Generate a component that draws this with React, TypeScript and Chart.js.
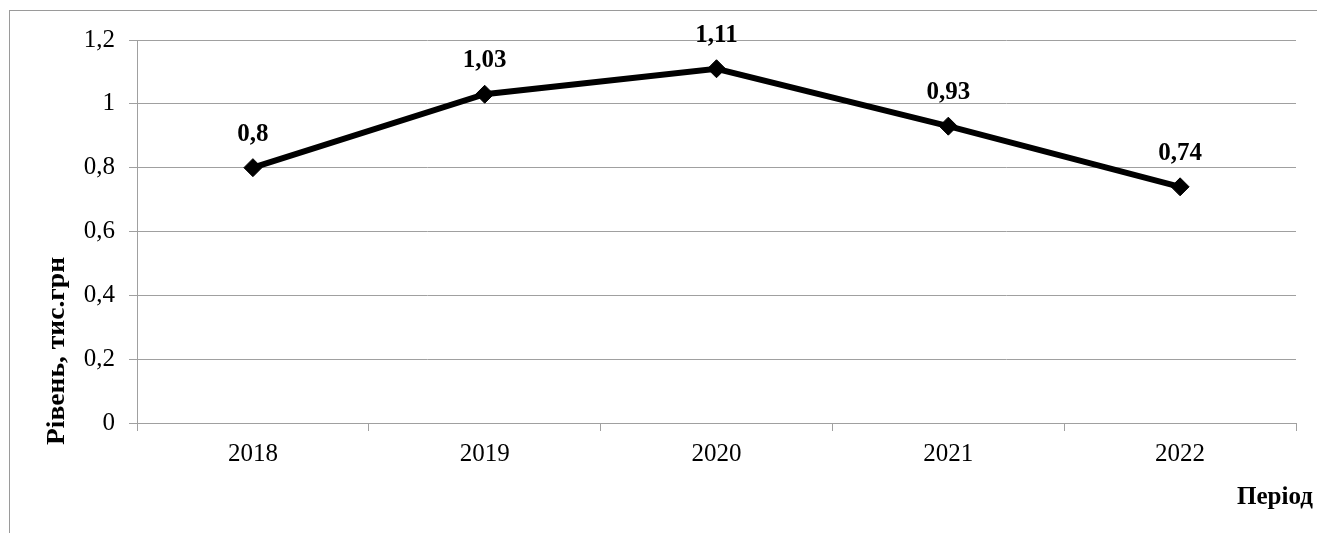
import React, { useEffect, useRef } from "react";
import { Chart, registerables } from "chart.js";

Chart.register(...registerables);

// Рівень по роках, тис. грн
const periods = ["2018", "2019", "2020", "2021", "2022"];
const levels = [0.8, 1.03, 1.11, 0.93, 0.74];
const yTitle = "Рівень, тис.грн";
const xTitle = "Період";

const GRAY = "#a0a0a0";
const FONT = "'Liberation Serif', 'Times New Roman', serif";

const fmt = (v: number) => String(Number(v.toFixed(2))).replace(".", ",");

// Draws centred text widened to a given run length (Cyrillic glyphs here are narrower than Times)
function drawWide(ctx: CanvasRenderingContext2D, text: string, runLength: number) {
  const w = ctx.measureText(text).width;
  const k = w > 0 ? runLength / w : 1;
  ctx.save();
  ctx.scale(k, 1);
  ctx.textAlign = "center";
  ctx.textBaseline = "middle";
  ctx.fillText(text, 0, 0);
  ctx.restore();
}

// Frame around the chart, axis titles and value labels
const decorations = {
  id: "decorations",
  beforeDraw(chart: any) {
    const { ctx } = chart;
    ctx.save();
    ctx.fillStyle = "#ffffff";
    ctx.fillRect(0, 0, chart.width, chart.height);
    ctx.fillStyle = "#9a9a9a";
    ctx.fillRect(9, 10, 1, chart.height - 10);
    ctx.fillRect(9, 10, chart.width - 9, 1);
    ctx.restore();
  },
  afterDatasetsDraw(chart: any) {
    const { ctx } = chart;
    const meta = chart.getDatasetMeta(0);
    ctx.save();
    ctx.fillStyle = "#000";
    ctx.font = `bold 25px ${FONT}`;
    ctx.textAlign = "center";
    ctx.textBaseline = "alphabetic";
    meta.data.forEach((pt: any, i: number) => {
      ctx.fillText(fmt(levels[i]), pt.x, pt.y - 27);
    });

    // axis titles
    ctx.font = `bold 25px ${FONT}`;
    ctx.save();
    ctx.translate(1275, 498);
    drawWide(ctx, xTitle, 76);
    ctx.restore();

    ctx.save();
    ctx.translate(57.5, 351);
    ctx.rotate(-Math.PI / 2);
    drawWide(ctx, yTitle, 188);
    ctx.restore();
    ctx.restore();
  },
};

export default function App() {
  const canvasRef = useRef<HTMLCanvasElement | null>(null);

  useEffect(() => {
    const canvas = canvasRef.current;
    if (!canvas) return;
    const chart = new Chart(canvas, {
      type: "line",
      data: {
        labels: periods,
        datasets: [
          {
            data: levels,
            borderColor: "#000",
            backgroundColor: "#000",
            borderWidth: 6,
            tension: 0,
            pointStyle: "rectRot",
            pointRadius: 9,
            pointBorderWidth: 1,
            pointBackgroundColor: "#000",
            pointBorderColor: "#000",
          },
        ],
      },
      options: {
        responsive: false,
        animation: false,
        layout: { padding: { left: 0, top: 40, right: 21, bottom: 0 } },
        plugins: {
          legend: { display: false },
          tooltip: { enabled: false },
          title: { display: false },
        },
        scales: {
          x: {
            type: "category",
            offset: true,
            afterFit: (s: any) => {
              s.height = 110;
            },
            grid: {
              offset: true,
              drawOnChartArea: false,
              drawTicks: true,
              tickLength: 8,
              color: GRAY,
              lineWidth: 1,
            },
            border: { color: GRAY, width: 1 },
            ticks: {
              color: "#000",
              font: { family: FONT, size: 25 },
              padding: 8,
              maxRotation: 0,
            },
          },
          y: {
            min: 0,
            max: 1.2,
            afterFit: (s: any) => {
              s.width = 137;
            },
            grid: {
              color: GRAY,
              lineWidth: 1,
              tickLength: 8,
            },
            border: { color: GRAY, width: 1 },
            ticks: {
              stepSize: 0.2,
              color: "#000",
              font: { family: FONT, size: 25 },
              padding: 14,
              callback: (v: any) => fmt(Number(v)),
            },
          },
        },
      },
      plugins: [decorations],
    });
    return () => chart.destroy();
  }, []);

  return (
    <div style={{ position: "fixed", left: 0, top: 0, width: 1317, height: 533 }}>
      <canvas ref={canvasRef} width={1317} height={533} style={{ display: "block" }} />
    </div>
  );
}
